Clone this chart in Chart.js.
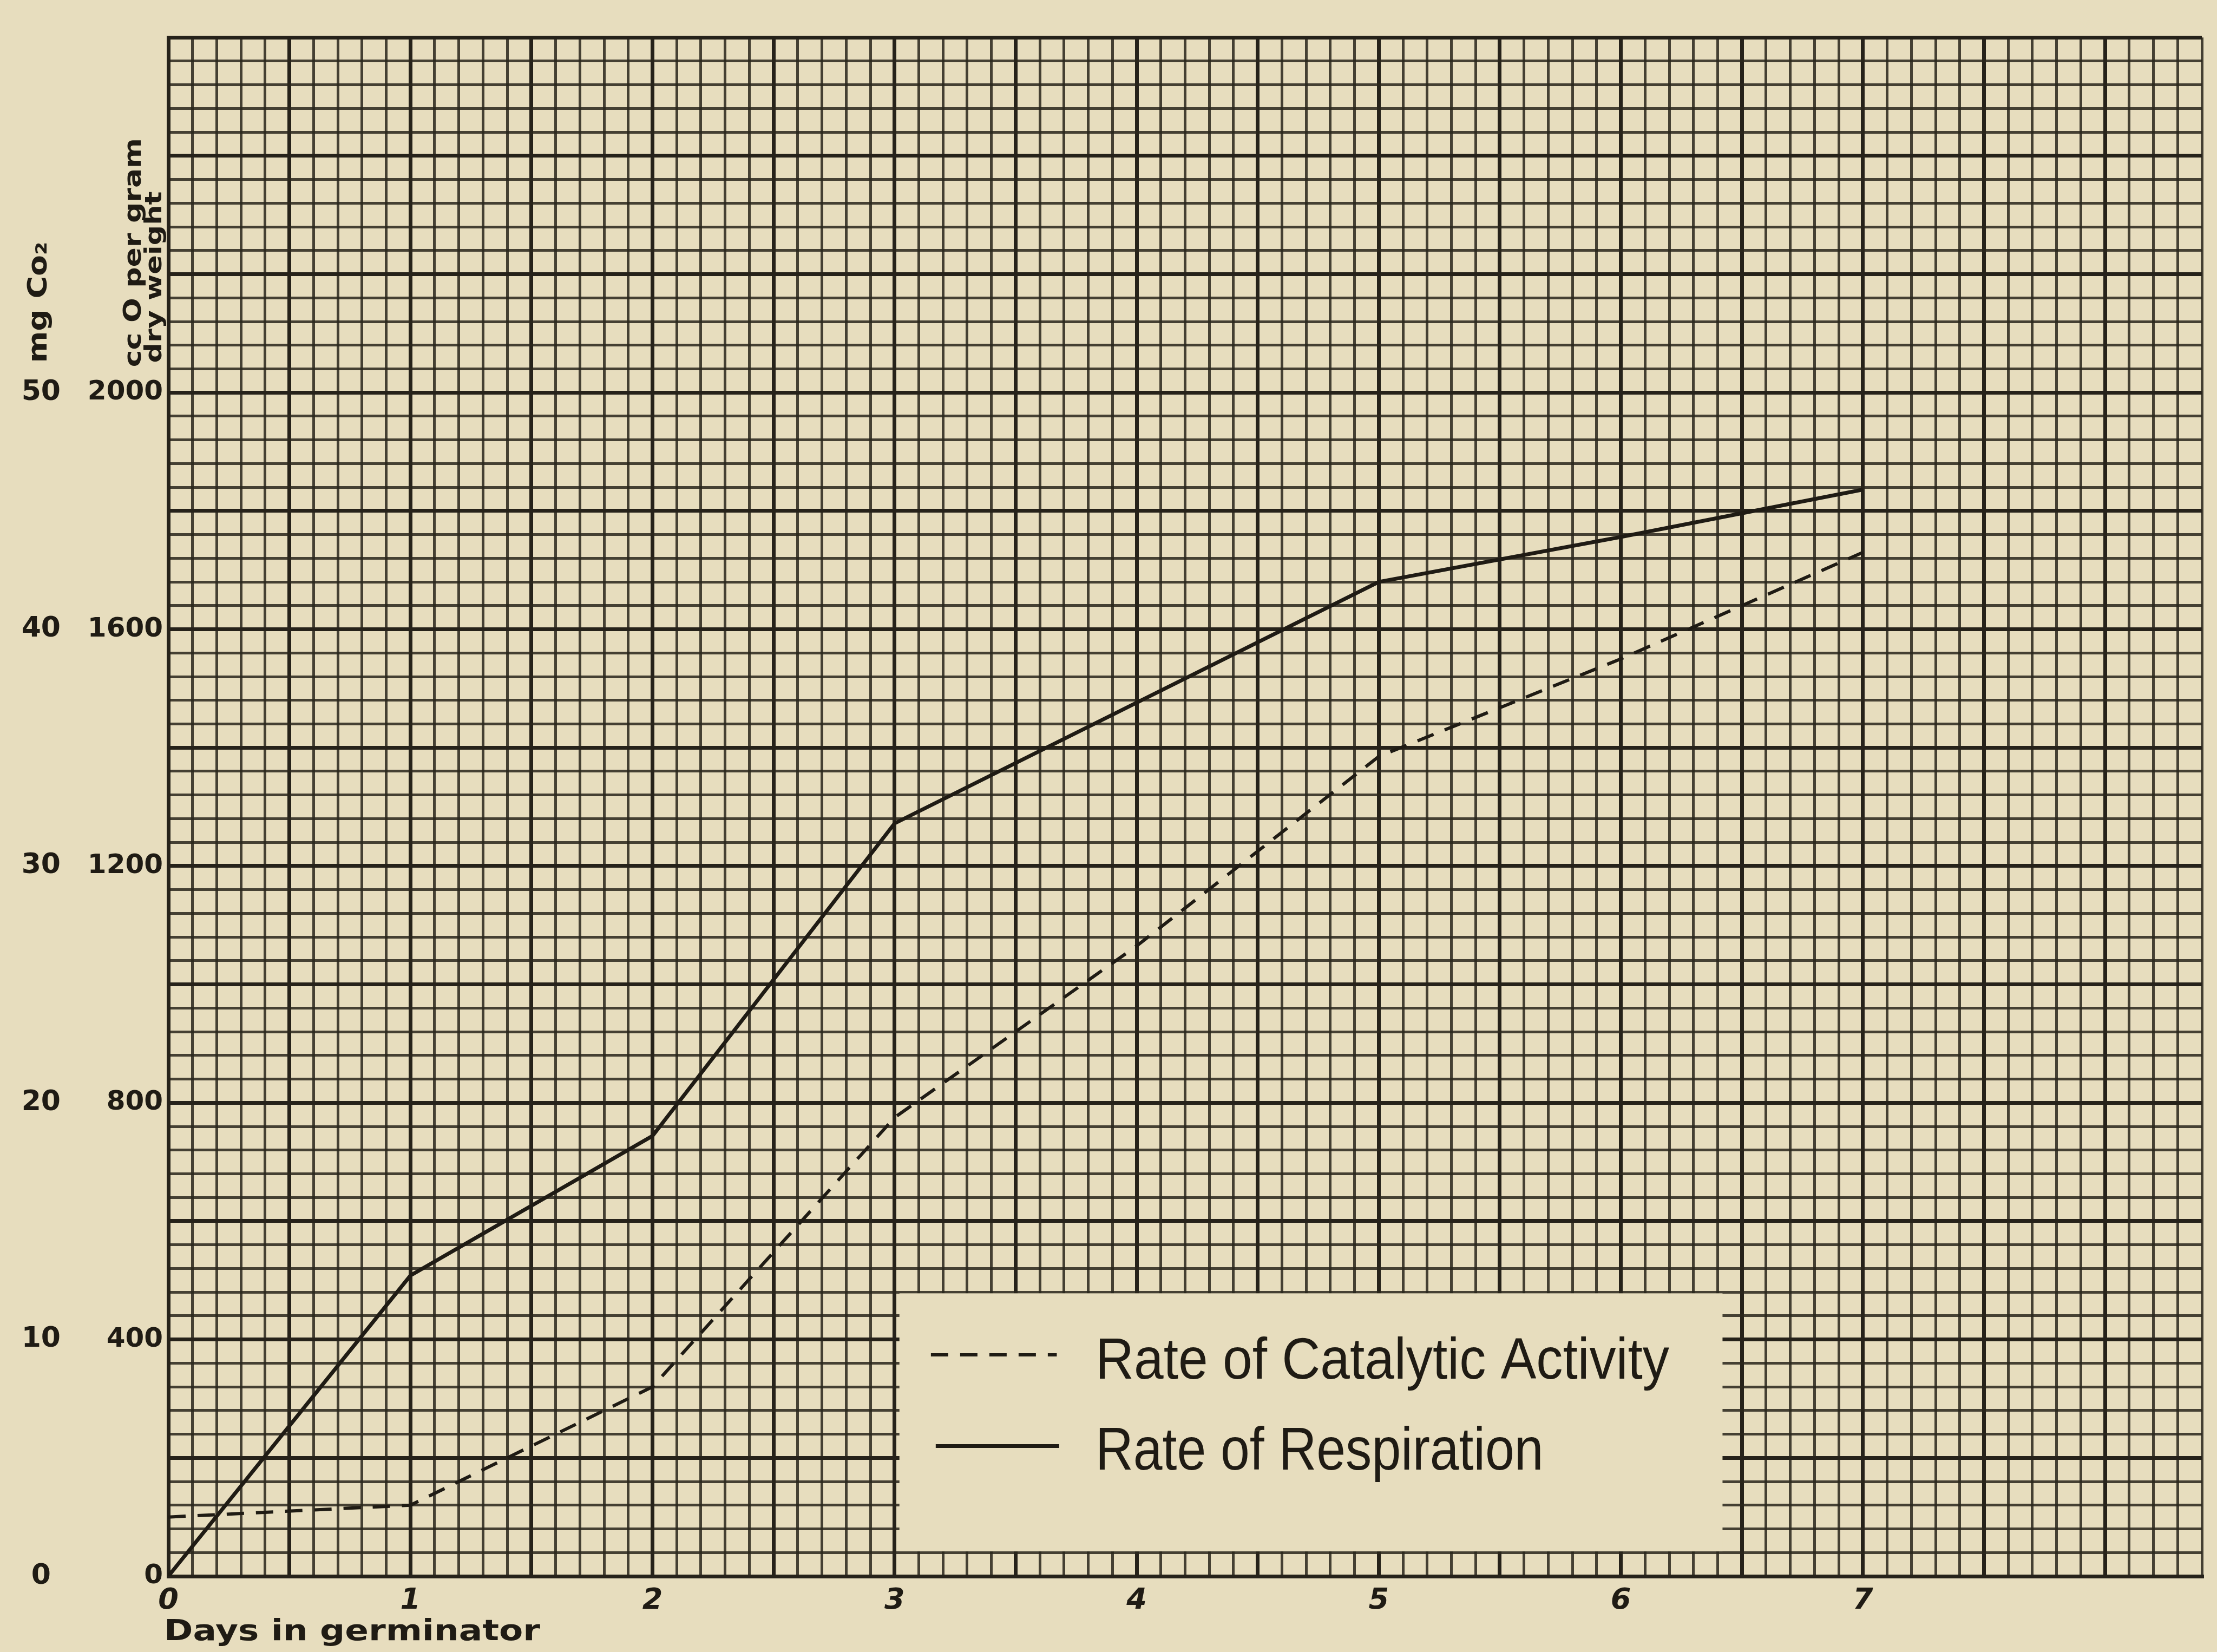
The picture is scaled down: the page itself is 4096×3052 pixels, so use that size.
<!DOCTYPE html>
<html>
<head>
<meta charset="utf-8">
<title>Catalytic activity and respiration during germination</title>
<script src="https://cdn.jsdelivr.net/npm/chart.js@4.4.1/dist/chart.umd.min.js"></script>
<style>
  html, body { margin: 0; padding: 0; background: #E7DDBE; }
  canvas { display: block; }
</style>
</head>
<body>
<canvas id="chart" width="4096" height="3052"></canvas>
<script>
// Days in the germinator
const days = [0, 1, 2, 3, 4, 5, 6, 7];
// Rate of catalytic activity, cc O per gram dry weight
const catalyticCc = [100, 120, 320, 775, 1065, 1385, 1550, 1730];
// Rate of respiration, mg CO2 per gram dry weight
const respirationMg = [0, 12.7, 18.6, 31.8, 36.9, 42.0, 43.9, 45.9];

const seriesNames = ['Rate of Catalytic Activity', 'Rate of Respiration'];
const dayLabels = ['0', '1', '2', '3', '4', '5', '6', '7'];
const ccLabels = [0, 400, 800, 1200, 1600, 2000];
const mgLabels = [0, 10, 20, 30, 40, 50];

const INK = '#1f1b14';
const PAPER = '#E7DDBE';
const GRID_FINE = 'rgba(42,38,28,0.86)';
const GRID_HEAVY = '#26221a';

// Draws a line of lettering stretched or squeezed to a given length
function fitText(ctx, text, x, y, length, font, rotation, baseline) {
  ctx.save();
  ctx.font = font;
  const w = ctx.measureText(text).width;
  ctx.translate(x, y);
  if (rotation) ctx.rotate(rotation);
  ctx.scale(length / w, 1);
  ctx.fillStyle = INK;
  ctx.textAlign = 'left';
  ctx.textBaseline = baseline || 'alphabetic';
  ctx.fillText(text, 0, 0);
  ctx.restore();
}

// Key panel rows, in axis units (days, cc)
const keyPanel = { left: 3.02, right: 6.42, top: 478, bottom: 42 };
const keyRows = [
  { from: 3.15, to: 3.67, lineAt: 374, textFrom: 3.83, textTo: 6.2, baseline: 334, size: 108 },
  { from: 3.17, to: 3.68, lineAt: 220, textFrom: 3.83, textTo: 5.68, baseline: 180, size: 112 }
];

const handNotes = {
  id: 'handNotes',
  beforeDraw(chart) {
    const { ctx, width, height } = chart;
    ctx.save();
    ctx.fillStyle = PAPER;
    ctx.fillRect(0, 0, width, height);
    ctx.restore();
  },
  afterDraw(chart) {
    const { ctx, chartArea } = chart;
    const xs = chart.scales.x, ys = chart.scales.yCc;
    const px = v => xs.getPixelForValue(v);
    const py = v => ys.getPixelForValue(v);

    // key panel
    ctx.save();
    ctx.fillStyle = PAPER;
    ctx.fillRect(px(keyPanel.left), py(keyPanel.top),
                 px(keyPanel.right) - px(keyPanel.left), py(keyPanel.bottom) - py(keyPanel.top));
    chart.data.datasets.forEach((ds, i) => {
      const r = keyRows[i];
      ctx.beginPath();
      ctx.strokeStyle = ds.borderColor;
      ctx.lineWidth = ds.borderWidth;
      ctx.setLineDash(ds.borderDash || []);
      ctx.moveTo(px(r.from), py(r.lineAt));
      ctx.lineTo(px(r.to), py(r.lineAt));
      ctx.stroke();
      ctx.setLineDash([]);
      fitText(ctx, ds.label, px(r.textFrom), py(r.baseline), px(r.textTo) - px(r.textFrom),
              r.size + 'px "Liberation Sans Narrow", "Liberation Sans"', 0, 'alphabetic');
    });
    ctx.restore();

    // axis headings
    const L = chartArea.left;
    fitText(ctx, 'mg Co\u2082', L - 238, py(2050), py(2050) - py(2255), 'bold 50px "DejaVu Sans"', -Math.PI / 2, 'middle');
    fitText(ctx, 'cc O per gram', L - 62, py(2043), py(2043) - py(2430), 'bold 44px "DejaVu Sans"', -Math.PI / 2, 'middle');
    fitText(ctx, 'dry weight', L - 24, py(2050), py(2050) - py(2340), 'bold 42px "DejaVu Sans"', -Math.PI / 2, 'middle');
    fitText(ctx, 'Days in germinator', L - 8, chartArea.bottom + 118, 695, 'bold 54px "DejaVu Sans"', 0, 'alphabetic');
  }
};

const heavyX = c => c.tick && Math.round(c.tick.value * 10) % 5 === 0;
const heavyY = c => c.tick && Math.round(c.tick.value / 40) % 5 === 0;

new Chart(document.getElementById('chart'), {
  type: 'line',
  data: {
    datasets: [
      {
        label: seriesNames[0],
        data: days.map((d, i) => ({ x: d, y: catalyticCc[i] })),
        yAxisID: 'yCc',
        borderColor: INK,
        borderWidth: 6,
        borderDash: [32, 22],
        pointRadius: 0,
        tension: 0,
        fill: false
      },
      {
        label: seriesNames[1],
        data: days.map((d, i) => ({ x: d, y: respirationMg[i] })),
        yAxisID: 'yMg',
        borderColor: INK,
        borderWidth: 7,
        pointRadius: 0,
        tension: 0,
        fill: false
      }
    ]
  },
  options: {
    responsive: false,
    animation: false,
    devicePixelRatio: 1,
    layout: { padding: { left: 0, right: 28, top: 53, bottom: 0 } },
    plugins: { legend: { display: false }, tooltip: { enabled: false } },
    scales: {
      x: {
        type: 'linear',
        min: 0,
        max: 8.4,
        afterFit(s) { s.height = 140; },
        ticks: {
          stepSize: 0.1,
          autoSkip: false,
          maxRotation: 0,
          padding: 14,
          color: INK,
          font: { family: 'DejaVu Sans', size: 54, style: 'italic', weight: 'bold' },
          callback(v) {
            const n = Math.round(v * 10);
            if (n % 10 !== 0) return '';
            const i = days.indexOf(n / 10);
            return i >= 0 ? dayLabels[i] : '';
          }
        },
        grid: {
          drawTicks: false,
          lineWidth: c => heavyX(c) ? 7 : 5,
          color: c => heavyX(c) ? GRID_HEAVY : GRID_FINE
        },
        border: { display: true, width: 7, color: GRID_HEAVY }
      },
      yCc: {
        position: 'left',
        weight: 0,
        min: 0,
        max: 2600,
        afterFit(s) { s.width = 161; },
        ticks: {
          stepSize: 40,
          autoSkip: false,
          padding: 10,
          color: INK,
          font: { family: 'DejaVu Sans', size: 50, weight: 'bold' },
          callback(v) { return ccLabels.includes(Math.round(v)) ? String(Math.round(v)) : ''; }
        },
        grid: {
          drawTicks: false,
          lineWidth: c => heavyY(c) ? 7 : 5,
          color: c => heavyY(c) ? GRID_HEAVY : GRID_FINE
        },
        border: { display: true, width: 7, color: GRID_HEAVY }
      },
      yMg: {
        position: 'left',
        weight: 1,
        min: 0,
        max: 65,
        afterFit(s) { s.width = 150; },
        ticks: {
          stepSize: 5,
          autoSkip: false,
          crossAlign: 'center',
          padding: 38,
          color: INK,
          font: { family: 'DejaVu Sans', size: 52, weight: 'bold' },
          callback(v) { return mgLabels.includes(v) ? String(v) : ''; }
        },
        grid: { display: false, drawTicks: false },
        border: { display: false }
      }
    }
  },
  plugins: [handNotes]
});
</script>
</body>
</html>
